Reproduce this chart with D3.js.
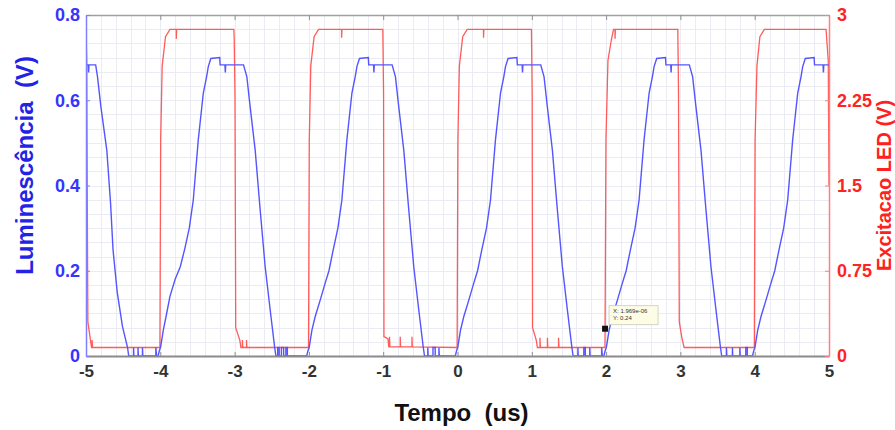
<!DOCTYPE html>
<html>
<head>
<meta charset="utf-8">
<script src="https://cdn.jsdelivr.net/npm/d3@7"></script>
<style>
  html, body { margin: 0; padding: 0; background: #fff; }
  svg { display: block; }
  text { font-family: "Liberation Sans", Arial, sans-serif; font-weight: bold; white-space: pre; }
</style>
</head>
<body>
<svg id="chart" width="895" height="430"></svg>
<script>
// ---------- data (time in us, values in V) ----------
const xTicks = [-5, -4, -3, -2, -1, 0, 1, 2, 3, 4, 5];
const xTickLabels = ["-5", "-4", "-3", "-2", "-1", "0", "1", "2", "3", "4", "5"];
const leftTicks = [0, 0.2, 0.4, 0.6, 0.8];
const leftTickLabels = ["0", "0.2", "0.4", "0.6", "0.8"];
const rightTicks = [0, 0.75, 1.5, 2.25, 3];
const rightTickLabels = ["0", "0.75", "1.5", "2.25", "3"];

// Luminescence (left axis)
const luminescence = [
  [-5.00,0.683],[-4.97,0.683],[-4.965,0.665],[-4.96,0.683],[-4.87,0.683],[-4.845,0.655],[-4.80,0.585],
  [-4.72,0.483],[-4.67,0.36],[-4.636,0.249],[-4.58,0.15],[-4.51,0.07],[-4.44,0.019],[-4.425,0],
  [-4.36,0],[-4.36,0.02],[-4.355,0],[-4.30,0],[-4.30,0.02],[-4.295,0],[-4.24,0],[-4.24,0.02],[-4.235,0],
  [-4.06,0],[-4.06,0.02],[-4.05,0],[-4.03,0],
  [-4.01,0.014],[-3.997,0.02],[-3.96,0.06],[-3.92,0.095],[-3.87,0.14],[-3.80,0.18],[-3.73,0.21],
  [-3.67,0.252],[-3.61,0.3],[-3.556,0.366],[-3.489,0.507],[-3.421,0.617],[-3.377,0.655],[-3.354,0.679],
  [-3.32,0.698],[-3.20,0.70],[-3.195,0.683],[-3.13,0.683],[-3.125,0.665],[-3.12,0.683],[-2.88,0.683],
  [-2.835,0.655],[-2.791,0.585],[-2.723,0.483],[-2.656,0.343],[-2.589,0.21],[-2.521,0.108],[-2.462,0.022],[-2.444,0],
  [-2.42,0],[-2.42,0.02],[-2.40,0.02],[-2.40,0],[-2.37,0],[-2.37,0.02],[-2.34,0.02],[-2.34,0],[-2.31,0],[-2.31,0.02],
  [-2.29,0.02],[-2.29,0],[-2.03,0],
  [-2.01,0.014],[-1.997,0.019],[-1.96,0.06],[-1.916,0.092],[-1.85,0.13],[-1.781,0.171],[-1.73,0.2],
  [-1.673,0.249],[-1.61,0.3],[-1.556,0.366],[-1.489,0.507],[-1.421,0.617],[-1.377,0.655],[-1.354,0.679],
  [-1.319,0.698],[-1.20,0.70],[-1.195,0.683],[-1.13,0.683],[-1.125,0.665],[-1.12,0.683],[-0.88,0.683],
  [-0.835,0.655],[-0.791,0.585],[-0.723,0.483],[-0.656,0.343],[-0.589,0.21],[-0.521,0.108],[-0.462,0.022],[-0.444,0],
  [-0.40,0],[-0.40,0.02],[-0.395,0],[-0.33,0],[-0.33,0.02],[-0.30,0.02],[-0.30,0],[-0.25,0],[-0.25,0.02],[-0.245,0],
  [-0.03,0],
  [-0.01,0.014],[0.003,0.02],[0.04,0.06],[0.084,0.092],[0.15,0.13],[0.219,0.171],[0.27,0.2],
  [0.327,0.249],[0.39,0.3],[0.444,0.366],[0.511,0.507],[0.579,0.617],[0.623,0.655],[0.646,0.679],
  [0.681,0.698],[0.80,0.70],[0.805,0.683],[0.87,0.683],[0.875,0.665],[0.88,0.683],[1.12,0.683],
  [1.165,0.655],[1.209,0.585],[1.277,0.483],[1.344,0.343],[1.411,0.21],[1.479,0.108],[1.538,0.022],[1.556,0],
  [1.62,0],[1.62,0.02],[1.625,0],[1.70,0],[1.70,0.02],[1.72,0.02],[1.72,0],[1.78,0],[1.78,0.02],[1.785,0],
  [1.94,0],[1.94,0.02],[1.95,0],[1.97,0],
  [1.99,0.014],[2.003,0.02],[2.04,0.06],[2.084,0.092],[2.15,0.13],[2.219,0.171],[2.27,0.2],
  [2.327,0.249],[2.39,0.3],[2.444,0.366],[2.511,0.507],[2.579,0.617],[2.623,0.655],[2.646,0.679],
  [2.681,0.698],[2.80,0.70],[2.805,0.683],[2.87,0.683],[2.875,0.665],[2.88,0.683],[3.12,0.683],
  [3.165,0.655],[3.209,0.585],[3.277,0.483],[3.344,0.343],[3.411,0.21],[3.479,0.108],[3.538,0.022],[3.556,0],
  [3.62,0],[3.62,0.02],[3.625,0],[3.70,0],[3.70,0.02],[3.705,0],[3.80,0],[3.80,0.02],[3.805,0],[3.88,0],[3.88,0.02],
  [3.90,0.02],[3.90,0],[3.97,0],
  [3.99,0.014],[4.003,0.02],[4.04,0.06],[4.084,0.092],[4.15,0.13],[4.219,0.171],[4.27,0.2],
  [4.327,0.249],[4.39,0.3],[4.444,0.366],[4.511,0.507],[4.579,0.617],[4.623,0.655],[4.646,0.679],
  [4.681,0.698],[4.80,0.70],[4.805,0.683],[4.92,0.683],[4.925,0.665],[4.93,0.683],[5.00,0.683]
];

// LED excitation (right axis)
const excitation = [
  [-5.00,2.874],[-4.99,2.6],[-4.98,1.0],[-4.975,0.3],[-4.94,0.14],[-4.925,0.075],[-4.918,0.075],[-4.918,0.14],[-4.912,0.075],
  [-4.005,0.075],
  [-3.995,1.9],[-3.975,2.55],[-3.93,2.81],[-3.87,2.874],[-3.785,2.874],[-3.785,2.79],[-3.78,2.874],[-3.01,2.874],
  [-3.005,2.78],[-2.995,2.3],[-2.985,0.25],[-2.93,0.14],[-2.915,0.075],[-2.895,0.075],[-2.895,0.14],[-2.89,0.075],
  [-2.84,0.075],[-2.84,0.14],[-2.835,0.075],[-2.005,0.075],
  [-1.995,1.9],[-1.975,2.55],[-1.93,2.81],[-1.87,2.874],[-1.56,2.874],[-1.56,2.80],[-1.555,2.874],[-1.005,2.874],
  [-0.995,2.3],[-0.99,0.17],[-0.935,0.15],[-0.925,0.08],[-0.915,0.08],[-0.915,0.17],[-0.91,0.08],[-0.771,0.08],
  [-0.771,0.17],[-0.766,0.08],[-0.613,0.08],[-0.613,0.17],[-0.608,0.08],[-0.005,0.075],
  [0.005,1.9],[0.025,2.55],[0.07,2.81],[0.13,2.874],[0.35,2.874],[0.35,2.80],[0.355,2.874],[0.995,2.874],
  [1.005,2.3],[1.01,0.25],[1.06,0.14],[1.075,0.075],[1.11,0.075],[1.11,0.16],[1.115,0.075],[1.21,0.075],
  [1.21,0.16],[1.215,0.075],[1.36,0.075],[1.36,0.16],[1.365,0.075],[1.985,0.075],
  [1.998,1.9],[2.025,2.6],[2.07,2.78],[2.10,2.874],[2.12,2.874],[2.12,2.79],[2.125,2.874],[2.965,2.874],
  [2.975,2.3],[2.985,0.3],[3.02,0.16],[3.05,0.075],[3.995,0.075],
  [4.005,1.9],[4.03,2.55],[4.07,2.81],[4.13,2.874],[4.96,2.874],[4.99,2.6],[5.00,1.5]
];

// data tip
const tipX = 1.986;
const tipY = 0.24;
const tipLines = ["X: 1.969e-06", "Y: 0.24"];

// ---------- drawing ----------
const svg = d3.select("#chart");
const PL = 86, PR = 829, PT = 15, PB = 356;

const x = d3.scaleLinear().domain([-5, 5]).range([PL, PR]);
const yL = d3.scaleLinear().domain([0, 0.8]).range([PB, PT]);
const yR = d3.scaleLinear().domain([0, 3]).range([PB, PT]);

// grid
const grid = svg.append("g");
grid.selectAll("line.v").data(d3.range(-5, 5.001, 0.2)).join("line")
  .attr("x1", d => Math.round(x(d)) + 0.5).attr("x2", d => Math.round(x(d)) + 0.5)
  .attr("y1", PT).attr("y2", PB)
  .attr("stroke", "#eaebf3").attr("stroke-width", 1);
grid.selectAll("line.h").data(d3.range(0, 3.001, 0.125)).join("line")
  .attr("y1", d => Math.round(yR(d)) + 0.5).attr("y2", d => Math.round(yR(d)) + 0.5)
  .attr("x1", PL).attr("x2", PR)
  .attr("stroke", "#eaebf3").attr("stroke-width", 1);

// clip
svg.append("clipPath").attr("id", "clip").append("rect")
  .attr("x", PL).attr("y", PT - 3).attr("width", PR - PL + 1).attr("height", PB - PT + 4);

const lineR = d3.line().x(d => x(d[0])).y(d => yR(d[1]));
const lineL = d3.line().x(d => x(d[0])).y(d => yL(d[1]));

const plot = svg.append("g").attr("clip-path", "url(#clip)");
plot.append("path").datum(excitation).attr("d", lineR)
  .attr("fill", "none").attr("stroke", "#ff5b5b").attr("stroke-width", 1.3);
plot.append("path").datum(luminescence).attr("d", lineL)
  .attr("fill", "none").attr("stroke", "#5555ff").attr("stroke-width", 1.4);

// axes
const fmtIdx = (arr, labels) => (d) => labels[arr.indexOf(d)];
const FONT = "Liberation Sans, Arial, sans-serif";

const axTop = svg.append("g").attr("transform", `translate(0,${PT})`)
  .call(d3.axisTop(x).tickValues(xTicks).tickSizeInner(-5).tickSizeOuter(0).tickFormat(""));
axTop.select(".domain").attr("stroke", "#a0a0a0").attr("stroke-width", 1.5);
axTop.selectAll(".tick line").attr("stroke", "#909090");

const axBottom = svg.append("g").attr("transform", `translate(0,${PB})`)
  .call(d3.axisBottom(x).tickValues(xTicks).tickSizeInner(-4).tickSizeOuter(0).tickPadding(9)
    .tickFormat(fmtIdx(xTicks, xTickLabels)));
axBottom.select(".domain").attr("stroke", "#8a8a8a").attr("stroke-width", 2);
axBottom.selectAll(".tick line").attr("stroke", "#909090");
axBottom.selectAll(".tick text").attr("fill", "#333").style("font-size", "17px").style("font-weight", "bold")
  .style("font-family", FONT);

const axLeft = svg.append("g").attr("transform", `translate(${PL},0)`)
  .call(d3.axisLeft(yL).tickValues(leftTicks).tickSizeInner(-4).tickSizeOuter(0).tickPadding(6)
    .tickFormat(fmtIdx(leftTicks, leftTickLabels)));
axLeft.select(".domain").attr("stroke", "#8080ff").attr("stroke-width", 1.5);
axLeft.selectAll(".tick line").attr("stroke", "#8080ff");
axLeft.selectAll(".tick text").attr("fill", "#3535ff").style("font-size", "18px").style("font-weight", "bold")
  .style("font-family", FONT);

const axRight = svg.append("g").attr("transform", `translate(${PR},0)`)
  .call(d3.axisRight(yR).tickValues(rightTicks).tickSizeInner(-4).tickSizeOuter(0).tickPadding(8)
    .tickFormat(fmtIdx(rightTicks, rightTickLabels)));
axRight.select(".domain").attr("stroke", "#ff7f7f").attr("stroke-width", 1.5);
axRight.selectAll(".tick line").attr("stroke", "#ff7f7f");
axRight.selectAll(".tick text").attr("fill", "#ff2424").style("font-size", "18px").style("font-weight", "bold")
  .style("font-family", FONT);

// titles
svg.append("text")
  .attr("transform", `translate(33,${(PT + PB) / 2 - 20}) rotate(-90)`)
  .attr("text-anchor", "middle").attr("fill", "#2323e6")
  .style("font-size", "24px").text("Luminescência  (V)");
svg.append("text")
  .attr("transform", `translate(891,${(PT + PB) / 2}) rotate(-90)`)
  .attr("text-anchor", "middle").attr("fill", "#ff2020")
  .style("font-size", "20px").text("Excitacao LED (V)");
svg.append("text")
  .attr("x", (PL + PR) / 2 + 4).attr("y", 421)
  .attr("text-anchor", "middle").attr("fill", "#111")
  .style("font-size", "24px").text("Tempo  (us)");

// data tip
const tx = x(tipX), ty = yR(tipY);
svg.append("rect").attr("x", tx - 3).attr("y", ty - 3).attr("width", 6).attr("height", 6).attr("fill", "#111");
const tip = svg.append("g").attr("transform", `translate(${tx + 4},${ty - 23})`);
tip.append("rect").attr("width", 49).attr("height", 19)
  .attr("fill", "#fdfde6").attr("stroke", "#c8c8b8").attr("stroke-width", 0.8);
tip.selectAll("text").data(tipLines).join("text")
  .attr("x", 4).attr("y", (d, i) => 7.5 + i * 7)
  .attr("fill", "#333").style("font-size", "6px").style("font-weight", "normal").text(d => d);
</script>
</body>
</html>
